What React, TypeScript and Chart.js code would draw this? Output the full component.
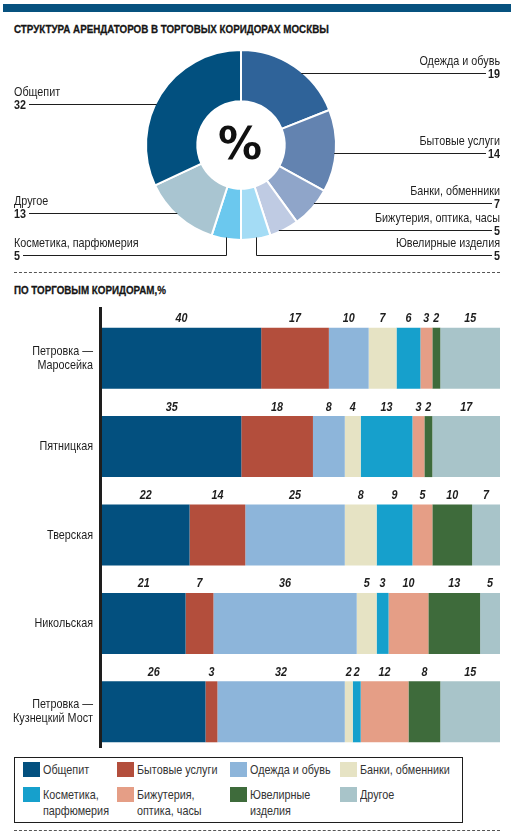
import React, { useEffect, useRef } from "react";
import { Chart, registerables } from "chart.js";

Chart.register(...registerables);

// ---------- DATA ----------
const pieLabels = [
  "Одежда и обувь",
  "Бытовые услуги",
  "Банки, обменники",
  "Бижутерия, оптика, часы",
  "Ювелирные изделия",
  "Косметика, парфюмерия",
  "Другое",
  "Общепит",
];
const pieValues = [19, 14, 7, 5, 5, 5, 13, 32];
const pieColors = ["#2f6399", "#6383b0", "#8fa5c9", "#bfcbe3", "#a4dcf5", "#6bc8ee", "#a9c5d1", "#02507f"];

const corridors = [
  ["Петровка —", "Маросейка"],
  ["Пятницкая"],
  ["Тверская"],
  ["Никольская"],
  ["Петровка —", "Кузнецкий Мост"],
];
const categories = [
  "Общепит",
  "Бытовые услуги",
  "Одежда и обувь",
  "Банки, обменники",
  "Косметика, парфюмерия",
  "Бижутерия, оптика, часы",
  "Ювелирные изделия",
  "Другое",
];
const legendLines = [
  ["Общепит"],
  ["Бытовые услуги"],
  ["Одежда и обувь"],
  ["Банки, обменники"],
  ["Косметика,", "парфюмерия"],
  ["Бижутерия,", "оптика, часы"],
  ["Ювелирные", "изделия"],
  ["Другое"],
];
const obshchepit = [40, 35, 22, 21, 26];
const bytovye = [17, 18, 14, 7, 3];
const odezhda = [10, 8, 25, 36, 32];
const banki = [7, 4, 8, 5, 2];
const kosmetika = [6, 13, 9, 3, 2];
const bizhuteria = [3, 3, 5, 10, 12];
const yuvelirnye = [2, 2, 10, 13, 8];
const drugoe = [15, 17, 7, 5, 15];
const seriesList = [obshchepit, bytovye, odezhda, banki, kosmetika, bizhuteria, yuvelirnye, drugoe];
const barColors = ["#03507f", "#b34e3c", "#8db5da", "#e6e3c4", "#16a0cc", "#e59e86", "#3e6b3b", "#a8c4c9"];

const title1 = "СТРУКТУРА АРЕНДАТОРОВ В ТОРГОВЫХ КОРИДОРАХ МОСКВЫ";
const title2 = "ПО ТОРГОВЫМ КОРИДОРАМ,%";

// ---------- STYLE / LAYOUT ----------
const FONT = "'Liberation Sans', Arimo, Arial, sans-serif";
const NARROW = 0.83;
const INK = "#1e1e1e";
const LEFT_X = 14;
const RIGHT_X = 500;
// vertical nudge (px) of each donut leader line relative to slice mid-angle
const leaderNudge = [5, 2, -3.5, 2, 0, 0, -2, 9];

function narrowText(ctx: CanvasRenderingContext2D, text: string, x: number, y: number, align: string) {
  const w = ctx.measureText(text).width * NARROW;
  const x0 = align === "left" ? x : align === "right" ? x - w : x - w / 2;
  ctx.save();
  ctx.textAlign = "left";
  ctx.translate(x0, y);
  ctx.scale(NARROW, 1);
  ctx.fillText(text, 0, 0);
  ctx.restore();
  return w;
}

const donutLabelsPlugin = {
  id: "donutLabels",
  afterDatasetsDraw(chart: any) {
    const ctx: CanvasRenderingContext2D = chart.ctx;
    const meta = chart.getDatasetMeta(0);
    ctx.save();
    ctx.strokeStyle = INK;
    ctx.fillStyle = INK;
    ctx.lineWidth = 1;
    ctx.textBaseline = "middle";
    let cx = 0,
      cy = 0;
    meta.data.forEach((arc: any, i: number) => {
      const p = arc.getProps(["x", "y", "startAngle", "endAngle", "outerRadius"], true);
      cx = p.x;
      cy = p.y;
      const r = p.outerRadius - 1.5;
      const mid = (p.startAngle + p.endAngle) / 2;
      const cos = Math.cos(mid);
      const sin = Math.sin(mid);
      const right = cos > 0;
      const bottom = sin > 0.95;
      let ax: number, ay: number, lineY: number;
      if (bottom) {
        ax = p.x + cos * r;
        ay = p.y + sin * r;
        lineY = Math.round(p.y + p.outerRadius + 15) + 0.5;
      } else {
        lineY = Math.round(p.y + sin * r + leaderNudge[i]) + 0.5;
        const dy = lineY - p.y;
        const dx = Math.sqrt(Math.max(r * r - dy * dy, 0));
        ax = p.x + (right ? dx : -dx);
        ay = lineY;
      }
      const value = String(pieValues[i]);
      ctx.font = `bold 13px ${FONT}`;
      let lx0: number, lx1: number;
      if (right) {
        const vw = narrowText(ctx, value, RIGHT_X, lineY + 1, "right");
        lx0 = ax;
        lx1 = RIGHT_X - vw - 2;
      } else {
        const vw = narrowText(ctx, value, LEFT_X, lineY + 1, "left");
        lx0 = LEFT_X + vw + 3;
        lx1 = ax;
      }
      ctx.beginPath();
      if (bottom) {
        const vx = Math.round(ax) + 0.5;
        ctx.moveTo(vx, ay);
        ctx.lineTo(vx, lineY);
        if (right) lx0 = vx;
        else lx1 = vx;
      }
      ctx.moveTo(lx0, lineY);
      ctx.lineTo(lx1, lineY);
      ctx.stroke();
      ctx.font = `13px ${FONT}`;
      narrowText(ctx, pieLabels[i], right ? RIGHT_X : LEFT_X, lineY - 12.5, right ? "right" : "left");
    });
    ctx.font = "bold 44px 'DejaVu Sans', sans-serif";
    ctx.textAlign = "center";
    ctx.fillStyle = "#111";
    ctx.fillText("%", cx - 1, cy + 3);
    ctx.restore();
  },
};

const barExtrasPlugin = {
  id: "barExtras",
  afterDatasetsDraw(chart: any) {
    const ctx: CanvasRenderingContext2D = chart.ctx;
    const area = chart.chartArea;
    const yScale = chart.scales.y;
    ctx.save();
    // axis line
    ctx.strokeStyle = INK;
    ctx.lineWidth = 3;
    ctx.beginPath();
    ctx.moveTo(area.left - 1.5, area.top - 7);
    ctx.lineTo(area.left - 1.5, area.bottom - 8);
    ctx.stroke();
    // category labels
    ctx.fillStyle = INK;
    ctx.textBaseline = "middle";
    ctx.font = `13px ${FONT}`;
    chart.data.labels.forEach((lab: string[], j: number) => {
      const yc = yScale.getPixelForValue(j);
      const lh = 14;
      lab.forEach((line, k) => {
        const yy = yc + (k - (lab.length - 1) / 2) * lh;
        narrowText(ctx, line, area.left - 9, yy, "right");
      });
    });
    // value labels
    ctx.font = `italic bold 13px ${FONT}`;
    chart.data.datasets.forEach((ds: any, di: number) => {
      const meta = chart.getDatasetMeta(di);
      meta.data.forEach((bar: any, j: number) => {
        const p = bar.getProps(["x", "y", "base", "height"], true);
        const xc = (p.x + p.base) / 2;
        narrowText(ctx, String(ds.data[j]), xc, p.y - p.height / 2 - 9, "center");
      });
    });
    ctx.restore();
  },
};

function DonutChart() {
  const ref = useRef<HTMLCanvasElement>(null);
  useEffect(() => {
    const chart = new Chart(ref.current!, {
      type: "doughnut",
      data: {
        labels: pieLabels,
        datasets: [
          {
            data: pieValues,
            backgroundColor: pieColors,
            borderColor: "#ffffff",
            borderWidth: 2,
          },
        ],
      },
      options: {
        animation: false,
        responsive: false,
        maintainAspectRatio: false,
        cutout: "46%",
        layout: { padding: { left: 145, right: 183, top: 9, bottom: 29 } },
        plugins: { legend: { display: false }, tooltip: { enabled: false } },
      },
      plugins: [donutLabelsPlugin],
    });
    return () => chart.destroy();
  }, []);
  return (
    <canvas
      ref={ref}
      width={520}
      height={230}
      style={{ position: "absolute", left: 0, top: 40, width: 520, height: 230 }}
    />
  );
}

function BarChart() {
  const ref = useRef<HTMLCanvasElement>(null);
  useEffect(() => {
    const chart = new Chart(ref.current!, {
      type: "bar",
      data: {
        labels: corridors as any,
        datasets: categories.map((c, i) => ({
          label: c,
          data: seriesList[i],
          backgroundColor: barColors[i],
          borderWidth: 0,
          barPercentage: 1,
          categoryPercentage: 0.69,
        })),
      },
      options: {
        indexAxis: "y",
        animation: false,
        responsive: false,
        maintainAspectRatio: false,
        layout: { padding: { top: 14, right: 20, bottom: 0, left: 0 } },
        scales: {
          x: { stacked: true, min: 0, max: 100, display: false },
          y: {
            stacked: true,
            grid: { display: false, drawTicks: false },
            border: { display: false },
            ticks: { display: false },
            afterFit(scale: any) {
              scale.width = 102;
            },
          },
        },
        plugins: { legend: { display: false }, tooltip: { enabled: false } },
      },
      plugins: [barExtrasPlugin],
    });
    return () => chart.destroy();
  }, []);
  return (
    <canvas
      ref={ref}
      width={520}
      height={456}
      style={{ position: "absolute", left: 0, top: 300, width: 520, height: 456 }}
    />
  );
}

const legendCols = [23, 117, 230, 340];
const legendRows = [762, 787];

const narrowCss: React.CSSProperties = {
  transform: `scaleX(${NARROW})`,
  transformOrigin: "left center",
  whiteSpace: "nowrap",
};

const titleCss: React.CSSProperties = {
  position: "absolute",
  left: 14,
  fontSize: 11.8,
  fontWeight: "bold",
  lineHeight: "16px",
  color: "#151515",
  WebkitTextStroke: "0.3px #151515",
  ...narrowCss,
};

export default function App() {
  return (
    <div
      style={{
        position: "absolute",
        left: 0,
        top: 0,
        width: 520,
        height: 836,
        background: "#fff",
        fontFamily: FONT,
        color: INK,
        overflow: "hidden",
      }}
    >
      <div style={{ position: "absolute", left: 3, top: 4, width: 508, height: 8, background: "#07527f" }} />
      <div style={{ ...titleCss, top: 21 }}>{title1}</div>
      <DonutChart />
      <div style={{ position: "absolute", left: 14, top: 272, width: 486, borderTop: "1px dashed #555" }} />
      <div style={{ ...titleCss, top: 282 }}>{title2}</div>
      <BarChart />
      <div
        style={{
          position: "absolute",
          left: 14,
          top: 757,
          width: 449,
          height: 66,
          border: `1px solid ${INK}`,
          boxSizing: "border-box",
        }}
      />
      {categories.map((c, i) => {
        const x = legendCols[i % 4];
        const y = legendRows[Math.floor(i / 4)];
        return (
          <React.Fragment key={c}>
            <div
              style={{
                position: "absolute",
                left: x,
                top: y,
                width: 17,
                height: 15,
                background: barColors[i],
              }}
            />
            <div
              style={{
                position: "absolute",
                left: x + 20,
                top: y,
                fontSize: 13,
                lineHeight: "16px",
                color: "#333",
                ...narrowCss,
              }}
            >
              {legendLines[i].map((l, k) => (
                <div key={k}>{l}</div>
              ))}
            </div>
          </React.Fragment>
        );
      })}
      <div style={{ position: "absolute", left: 14, top: 830, width: 486, borderTop: "1px dashed #555" }} />
    </div>
  );
}
